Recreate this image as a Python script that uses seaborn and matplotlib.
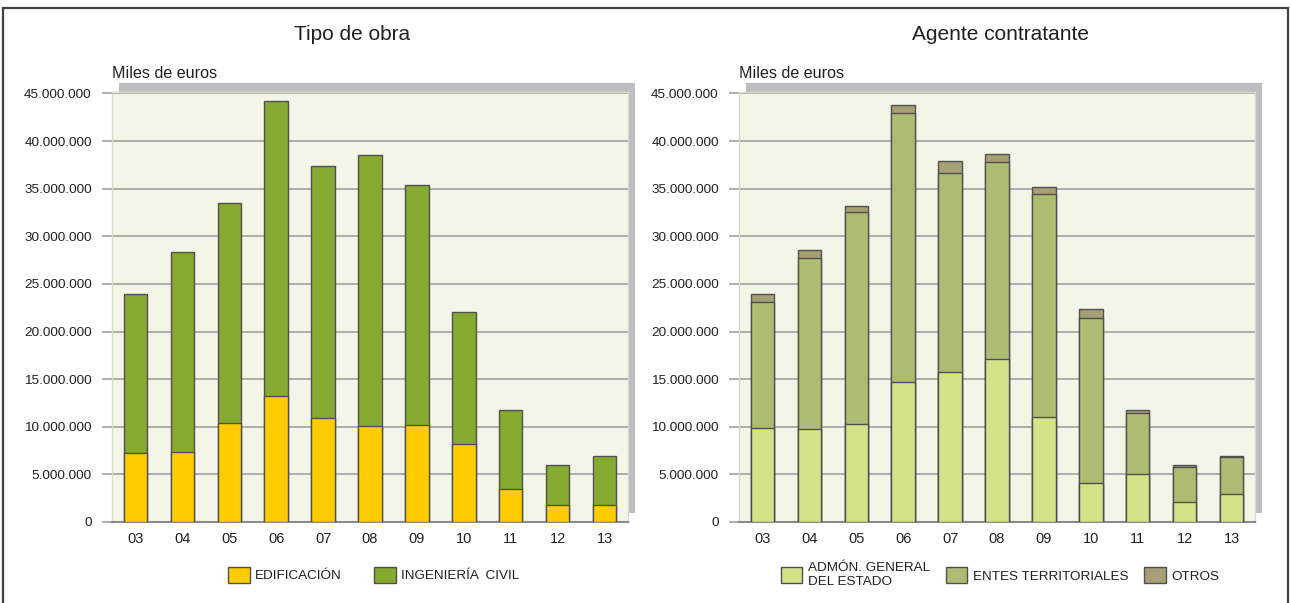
import pandas as pd
import matplotlib
matplotlib.use('Agg')
import matplotlib.pyplot as plt
from matplotlib.patches import Rectangle, Patch
from matplotlib.ticker import FuncFormatter
import seaborn as sns


############################################################################################################################################
# DATOS (miles de euros):

anios = ['03', '04', '05', '06', '07', '08', '09', '10', '11', '12', '13']

# tipo de obra
edificacion = [7200000, 7400000, 10400000, 13200000, 10900000, 10100000, 10200000, 8150000, 3500000, 1800000, 1750000]
ingenieria_civil = [16700000, 20900000, 23050000, 31000000, 26500000, 28400000, 25200000, 13850000, 8250000, 4150000, 5150000]

# agente contratante
admon_estado = [9900000, 9750000, 10300000, 14650000, 15800000, 17150000, 11000000, 4100000, 5000000, 2100000, 2900000]
entes_territoriales = [13200000, 17950000, 22300000, 28250000, 20800000, 20650000, 23400000, 17350000, 6450000, 3700000, 3950000]
otros = [850000, 850000, 600000, 900000, 1300000, 800000, 750000, 950000, 350000, 150000, 100000]

# colores
col_edif = '#FFCC00'
col_ing = '#86A92F'
col_admon = '#D4E28A'
col_entes = '#AEBB72'
col_otros = '#A79F76'
col_fondo = '#F3F6E7'
col_sombra = '#BDBEC2'
col_borde = '#505050'
col_texto = '#231F20'

W, H = 1290, 603

sns.set_style('white')
plt.rcParams['font.family'] = ['Liberation Sans', 'DejaVu Sans']
plt.rcParams['text.color'] = col_texto


############################################################################################################################################
# FUNCIONES:

def formatoMiles(v, pos):
    return '{:,}'.format(int(round(v))).replace(',', '.')


def creaEjes(fig, left_px, right_px):
    # crea el eje con fondo crema y su sombra gris detrás
    top_px, bottom_px = 92, 522
    x0 = left_px / W
    y0 = (H - bottom_px) / H
    w = (right_px - left_px) / W
    h = (bottom_px - top_px) / H
    sombra = Rectangle(((left_px + 7) / W, (H - bottom_px + 9) / H), w, h,
                       transform=fig.transFigure, facecolor=col_sombra, edgecolor='none', zorder=-1)
    fig.patches.append(sombra)
    ax = fig.add_axes([x0, y0, w, h])
    ax.set_facecolor(col_fondo)
    return ax


def apila(ax, series, colores):
    # dibuja barras apiladas: primero el total y luego los acumulados menores encima
    acumulados = []
    total = [0] * len(anios)
    for s in series:
        total = [a + b for a, b in zip(total, s)]
        acumulados.append(total)
    for acum, color in reversed(list(zip(acumulados, colores))):
        df = pd.DataFrame({'anio': anios, 'valor': acum})
        sns.barplot(ax=ax, data=df, x='anio', y='valor', color=color, saturation=1,
                    width=0.5, edgecolor=col_borde, linewidth=1.0, zorder=3)


def estiloEjes(ax):
    ax.set_xlim(-0.5, 10.5)
    ax.set_ylim(0, 45150000)
    ax.set_yticks(range(0, 45000001, 5000000))
    ax.yaxis.set_major_formatter(FuncFormatter(formatoMiles))
    ax.yaxis.grid(True, color='#A8A8A8', linewidth=1.3, zorder=1)
    ax.xaxis.grid(False)
    ax.set_axisbelow(True)
    ax.set_xlabel('')
    ax.set_ylabel('')
    ax.tick_params(axis='y', left=True, length=7.5, width=1.3, color='#A8A8A8', pad=7,
                   labelsize=9.7, labelcolor=col_texto)
    ax.tick_params(axis='x', length=0, pad=7, labelsize=10.5, labelcolor=col_texto)
    for lado in ['left', 'top', 'right']:
        ax.spines[lado].set_color('#D6DBC6')
        ax.spines[lado].set_linewidth(1.0)
    ax.spines['bottom'].set_color('#8C8C8C')
    ax.spines['bottom'].set_linewidth(1.5)


def leyenda(ax, fig, etiquetas, colores, xc, ncol, espacio):
    handles = [Patch(facecolor=c, edgecolor=col_borde, linewidth=1.0, label=e) for e, c in zip(etiquetas, colores)]
    ax.legend(handles=handles, loc='center', bbox_to_anchor=(xc / W, 1 - 575 / H),
              bbox_transform=fig.transFigure, ncol=ncol, frameon=False, fontsize=9.7,
              handlelength=1.6, handleheight=1.5, handletextpad=0.4, columnspacing=espacio)


############################################################################################################################################
# FIGURA:

fig = plt.figure(figsize=(W / 100, H / 100), dpi=100)

# marco exterior
fig.patches.append(Rectangle((3 / W, -0.02), (1288 - 3) / W, 0.02 + (H - 8) / H, transform=fig.transFigure,
                             facecolor='none', edgecolor='#404040', linewidth=1.6, zorder=-2))

# tipo de obra
ax1 = creaEjes(fig, 112, 628)
apila(ax1, [edificacion, ingenieria_civil], [col_edif, col_ing])
estiloEjes(ax1)
leyenda(ax1, fig, ['EDIFICACIÓN', 'INGENIERÍA  CIVIL'], [col_edif, col_ing], 374, 2, 2.4)
fig.text(352 / W, 1 - 35 / H, 'Tipo de obra', ha='center', va='center', fontsize=15)
fig.text(112 / W, 1 - 73 / H, 'Miles de euros', ha='left', va='center', fontsize=11.6)

# agente contratante
ax2 = creaEjes(fig, 739, 1255)
apila(ax2, [admon_estado, entes_territoriales, otros], [col_admon, col_entes, col_otros])
estiloEjes(ax2)
leyenda(ax2, fig, ['ADMÓN. GENERAL\nDEL ESTADO', 'ENTES TERRITORIALES', 'OTROS'],
        [col_admon, col_entes, col_otros], 1000, 3, 1.2)
fig.text(1000 / W, 1 - 35 / H, 'Agente contratante', ha='center', va='center', fontsize=15)
fig.text(739 / W, 1 - 73 / H, 'Miles de euros', ha='left', va='center', fontsize=11.6)

plt.savefig('out.png', dpi=100)
